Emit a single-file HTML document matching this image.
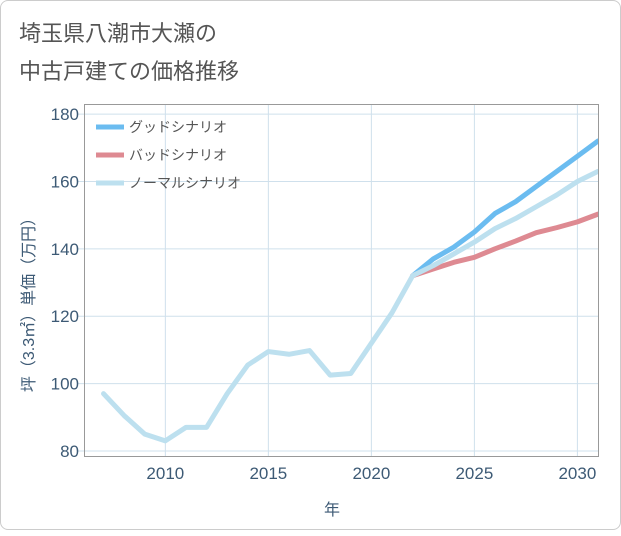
<!DOCTYPE html>
<html><head><meta charset="utf-8"><style>
body{margin:0;background:#fff;}
#card{position:absolute;left:0;top:0;width:619px;height:528px;border:1px solid #ccc;border-radius:8px;background:#fff;}
text{font-family:"Liberation Sans","Noto Sans CJK JP",sans-serif;}
</style></head><body>
<div id="card">
<svg id="chart" width="621" height="530">
<text x="18" y="40" font-size="22" fill="#555">埼玉県八潮市大瀬の</text>
<text x="18" y="78" font-size="22" fill="#555">中古戸建ての価格推移</text>
<g id="grid"></g>
<rect x="83.5" y="103.5" width="514" height="352" fill="none" stroke="#999" stroke-width="1"/>
<g id="series"></g>
<g id="legend"></g>
<text x="331" y="514" font-size="16" fill="#3d5a75" text-anchor="middle">年</text>
<text transform="translate(33,300) rotate(-90)" font-size="16" fill="#3d5a75" text-anchor="middle">坪（3.3㎡）単価（万円）</text>
</svg>
</div>
<script>
const years=[2007,2008,2009,2010,2011,2012,2013,2014,2015,2016,2017,2018,2019,2020,2021,2022,2023,2024,2025,2026,2027,2028,2029,2030,2031];
const normalVals=[97,90.5,85,83,87,87,97,105.5,109.5,108.7,109.8,102.5,103,112,121,132,135,138.5,142,146,149,152.5,156,160,163];
const fcYears=[2022,2023,2024,2025,2026,2027,2028,2029,2030,2031];
const goodVals=[132,137,140.5,145,150.5,154,158.5,163,167.5,172];
const badVals=[132,134,136,137.5,140,142.3,144.8,146.3,148,150.3];
const xTicks=[2010,2015,2020,2025,2030];
const yTicks=[80,100,120,140,160,180];
const legendLabels=["グッドシナリオ","バッドシナリオ","ノーマルシナリオ"];
const NS="http://www.w3.org/2000/svg";
const X=v=>84+(v-2006.1)*(513/24.9);
const Y=v=>455-(v-78.5)*(352/104.5);
function el(t,a,p){const e=document.createElementNS(NS,t);for(const k in a)e.setAttribute(k,a[k]);document.getElementById(p).appendChild(e);return e;}
xTicks.forEach(t=>{
 const l=el('line',{x1:X(t),x2:X(t),y1:104,y2:455,stroke:'#cfe0ec'},'grid');
 
 
 const tx=el('text',{x:X(t),y:478,'font-size':17,fill:'#3d5a75','text-anchor':'middle'},'grid');
 tx.textContent=t;
 
 
});
yTicks.forEach(t=>{
 const l=el('line',{x1:77,x2:597,y1:Y(t),y2:Y(t),stroke:'#cfe0ec'},'grid');
 
 
 const tx=el('text',{x:78,y:Y(t)+6,'font-size':17,fill:'#3d5a75','text-anchor':'end'},'grid');
 tx.textContent=t;
 
 
});
function line(xs,vs,c,name){
 const p=el('polyline',{points:xs.map((x,i)=>X(x)+','+Y(vs[i])).join(' '),fill:'none',stroke:c,'stroke-width':5,'stroke-linejoin':'round','stroke-linecap':'round'},'series');
 
 
}
const svg=document.getElementById('chart');
svg.insertAdjacentHTML('afterbegin','<defs><clipPath id="cp"><rect x="84" y="104" width="513" height="351"/></clipPath></defs>');
document.getElementById('series').setAttribute('clip-path','url(#cp)');
line(fcYears,goodVals,'#6bbcf0','good-scenario-line');
line(fcYears,badVals,'#de8a92','bad-scenario-line');
line(years,normalVals,'#bde0ef','normal-scenario-line');
const lc=['#6bbcf0','#de8a92','#bde0ef'];
legendLabels.forEach((s,i)=>{
 const y=126+i*28;
 const l=el('line',{x1:95,x2:123,y1:y,y2:y,stroke:lc[i],'stroke-width':5},'legend');
 
 
 const t=el('text',{x:128,y:y+5,'font-size':14,fill:'#555'},'legend');
 t.textContent=s;
 
 
});
</script>
</body></html>
